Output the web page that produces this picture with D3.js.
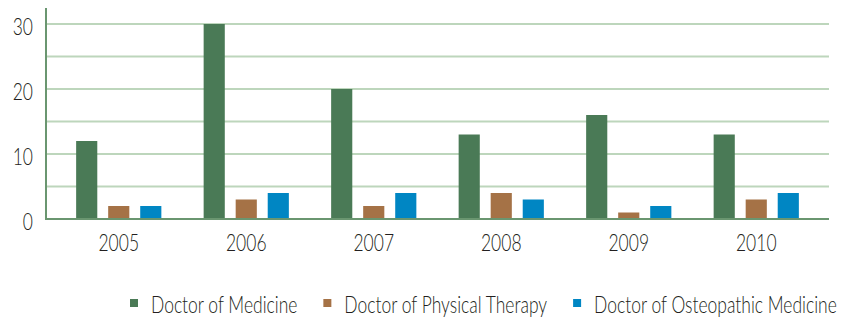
<!DOCTYPE html>
<html>
<head>
<meta charset="utf-8">
<script src="https://cdn.jsdelivr.net/npm/d3@7"></script>
<style>
  html, body { margin: 0; padding: 0; background: #fff; }
  svg text { font-family: "Lato", "Open Sans", sans-serif; fill: #231f20; }
</style>
</head>
<body>
<svg id="chart" width="845" height="322"></svg>
<script>
// Graduates per year by degree
const years = ["2005", "2006", "2007", "2008", "2009", "2010"];
const seriesNames = ["Doctor of Medicine", "Doctor of Physical Therapy", "Doctor of Osteopathic Medicine"];
const medicine = [12, 30, 20, 13, 16, 13];
const physicalTherapy = [2, 3, 2, 4, 1, 3];
const osteopathic = [2, 4, 4, 3, 2, 4];
const yTicks = [0, 10, 20, 30];
const gridValues = [0, 5, 10, 15, 20, 25, 30];
const colors = ["#4a7a56", "#a57246", "#0086c3"];

const seriesValues = [medicine, physicalTherapy, osteopathic];

// condensed look: horizontally squeezed type
const squeeze = 0.76;

const svg = d3.select("#chart");
const plot = { left: 46, right: 829, top: 8, bottom: 219 };

const y = d3.scaleLinear().domain([0, 30]).range([plot.bottom, 24]);
const x0 = d3.scaleBand().domain(years).range([55, 820]);
const x1 = d3.scaleBand().domain(d3.range(seriesNames.length))
  .range([0, x0.bandwidth()]).paddingInner(0.34).paddingOuter(0.66);

function placeText(sel, x, yPos) {
  return sel.attr("transform", (d, i) => `translate(${x(d, i)},${yPos(d, i)}) scale(${squeeze},1)`);
}

// horizontal gridlines
svg.append("g")
  .selectAll("line")
  .data(gridValues.filter(v => v > 0))
  .join("line")
  .attr("x1", plot.left).attr("x2", plot.right)
  .attr("y1", d => y(d)).attr("y2", d => y(d))
  .attr("stroke", "#bdd6bc").attr("stroke-width", 2);

// bars
const groups = svg.append("g")
  .selectAll("g")
  .data(years)
  .join("g")
  .attr("transform", d => `translate(${x0(d)},0)`);

groups.selectAll("rect")
  .data((d, i) => seriesValues.map((s, k) => ({ k, v: s[i] })))
  .join("rect")
  .attr("x", d => x1(d.k))
  .attr("width", x1.bandwidth())
  .attr("y", d => y(d.v))
  .attr("height", d => y(0) - y(d.v))
  .attr("fill", d => colors[d.k]);

// axis lines
svg.append("line")
  .attr("x1", plot.left).attr("x2", plot.left)
  .attr("y1", plot.top).attr("y2", plot.bottom + 1)
  .attr("stroke", "#6a9670").attr("stroke-width", 2);
svg.append("line")
  .attr("x1", plot.left).attr("x2", plot.right)
  .attr("y1", plot.bottom).attr("y2", plot.bottom)
  .attr("stroke", "#6a9670").attr("stroke-width", 2);

// y tick labels
placeText(
  svg.append("g")
    .selectAll("text")
    .data(yTicks)
    .join("text")
    .attr("text-anchor", "end")
    .attr("font-size", 23)
    .attr("font-weight", 300)
    .text(d => d),
  () => 33, d => y(d) + 11);

// x labels
placeText(
  svg.append("g")
    .selectAll("text")
    .data(years)
    .join("text")
    .attr("text-anchor", "middle")
    .attr("font-size", 23)
    .attr("font-weight", 300)
    .text(d => d),
  d => x0(d) + x0.bandwidth() / 2, () => 251);

// legend
const legend = svg.append("g");
let lx = 130;
seriesNames.forEach((name, k) => {
  legend.append("rect")
    .attr("x", lx).attr("y", 299)
    .attr("width", 8).attr("height", 8)
    .attr("fill", colors[k]);
  const t = legend.append("text")
    .attr("transform", `translate(${lx + 21},312.5) scale(${squeeze},1)`)
    .attr("font-size", 23)
    .attr("font-weight", 300)
    .text(name);
  lx += 21 + t.node().getComputedTextLength() * squeeze + 26;
});
</script>
</body>
</html>
